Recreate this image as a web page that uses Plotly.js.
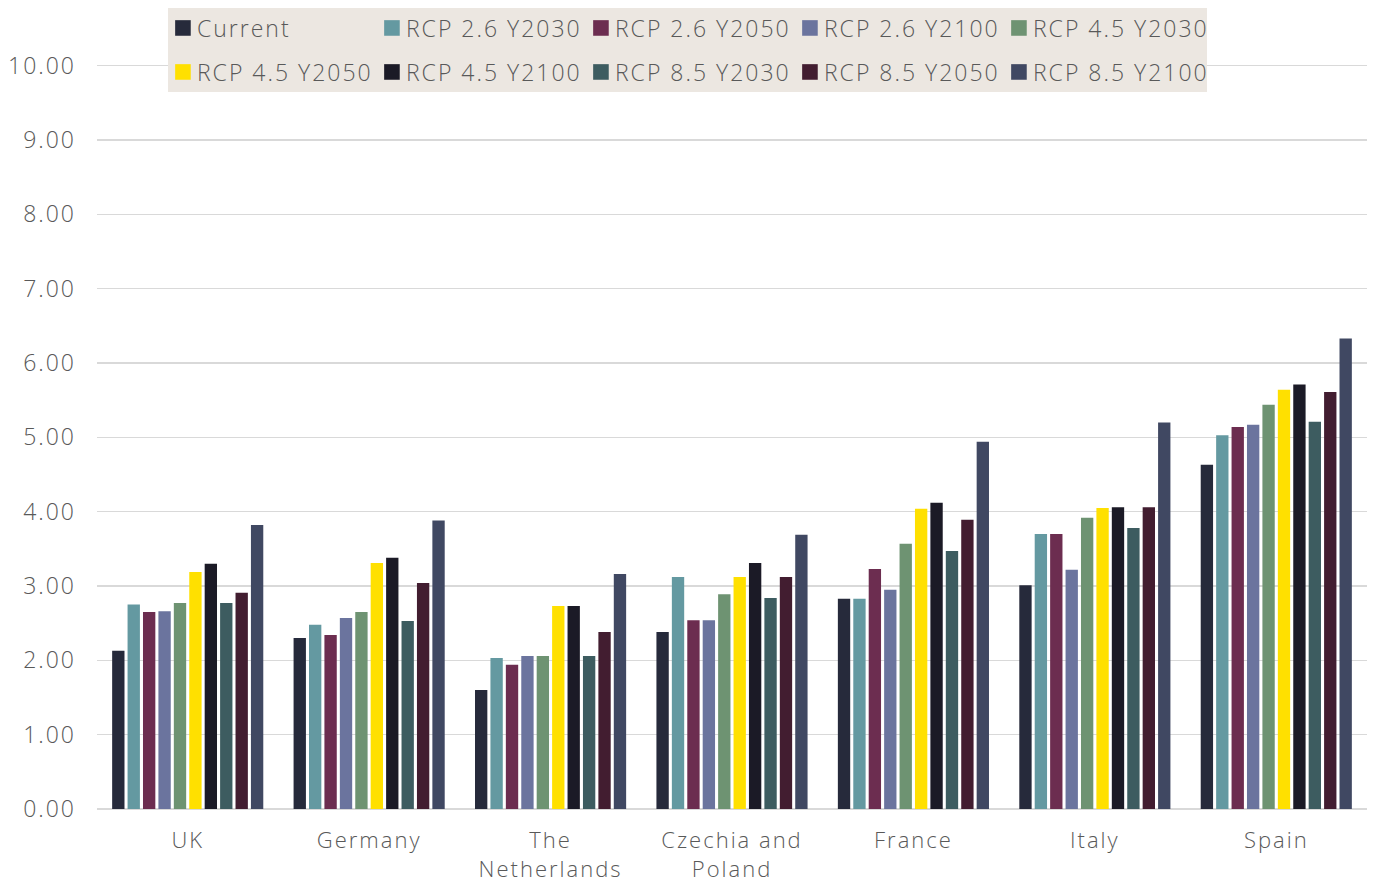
<!DOCTYPE html>
<html>
<head>
<meta charset="utf-8">
<script src="https://cdn.plot.ly/plotly-3.0.1.min.js"></script>
<style>html,body{margin:0;padding:0;background:#fff}#chart{width:1379px;height:883px}
svg text{letter-spacing:2px}
g.legendsymbols{transform:scale(1.3)}</style>
</head>
<body>
<div id="chart"></div>
<script>
const categories = ["UK", "Germany", "The<br>Netherlands", "Czechia and<br>Poland", "France", "Italy", "Spain"];
const seriesNames = ["Current", "RCP 2.6 Y2030", "RCP 2.6 Y2050", "RCP 2.6 Y2100", "RCP 4.5 Y2030",
  "RCP 4.5 Y2050", "RCP 4.5 Y2100", "RCP 8.5 Y2030", "RCP 8.5 Y2050", "RCP 8.5 Y2100"];
const current      = [2.13, 2.30, 1.60, 2.38, 2.83, 3.01, 4.63];
const rcp26_2030   = [2.75, 2.48, 2.03, 3.12, 2.83, 3.70, 5.03];
const rcp26_2050   = [2.65, 2.34, 1.94, 2.54, 3.23, 3.70, 5.14];
const rcp26_2100   = [2.66, 2.57, 2.06, 2.54, 2.95, 3.22, 5.17];
const rcp45_2030   = [2.77, 2.65, 2.06, 2.89, 3.57, 3.92, 5.44];
const rcp45_2050   = [3.19, 3.31, 2.73, 3.12, 4.04, 4.05, 5.64];
const rcp45_2100   = [3.30, 3.38, 2.73, 3.31, 4.12, 4.06, 5.71];
const rcp85_2030   = [2.77, 2.53, 2.06, 2.84, 3.47, 3.78, 5.21];
const rcp85_2050   = [2.91, 3.04, 2.38, 3.12, 3.89, 4.06, 5.61];
const rcp85_2100   = [3.82, 3.88, 3.16, 3.69, 4.94, 5.20, 6.33];
const tickValues = [0, 1, 2, 3, 4, 5, 6, 7, 8, 9, 10];
const tickLabels = ["0.00", "1.00", "2.00", "3.00", "4.00", "5.00", "6.00", "7.00", "8.00", "9.00", "10.00"];

const seriesValues = [current, rcp26_2030, rcp26_2050, rcp26_2100, rcp45_2030,
  rcp45_2050, rcp45_2100, rcp85_2030, rcp85_2050, rcp85_2100];
const colors = ["#262A3B", "#6499A1", "#6C2D50", "#6B749E", "#6E9372",
  "#FFE000", "#1B1A26", "#3D5C60", "#421D30", "#404862"];

const traces = seriesNames.map((name, i) => ({
  type: "bar",
  name: name,
  x: categories,
  y: seriesValues[i],
  legend: i < 5 ? "legend" : "legend2",
  marker: {color: colors[i], line: {width: 0}},
  hoverinfo: "x+y+name"
}));

const font = {family: "'Open Sans', Lato, sans-serif", size: 23, color: "#595959", weight: 300};
const catFont = Object.assign({}, font, {size: 22});

const legendBase = {
  orientation: "h",
  x: 0.0472, xanchor: "left",
  yanchor: "middle",
  bgcolor: "rgba(0,0,0,0)",
  font: font,
  entrywidth: 164,
  entrywidthmode: "pixels",
  itemwidth: 30,
  traceorder: "normal"
};

const layout = {
  width: 1379, height: 883,
  margin: {l: 97, r: 12, t: 62, b: 74, autoexpand: false},
  paper_bgcolor: "#ffffff", plot_bgcolor: "#ffffff",
  font: font,
  barmode: "group",
  bargap: 0.15,
  bargroupgap: 0.2,
  showlegend: true,
  legend: Object.assign({}, legendBase, {y: 1.0455}),
  legend2: Object.assign({}, legendBase, {y: 0.9866}),
  shapes: [{
    type: "rect", xref: "paper", yref: "paper",
    x0: 0.0559, x1: 0.874, y0: 0.9598, y1: 1.0723,
    fillcolor: "#ECE7E1", line: {width: 0}, layer: "above"
  }],
  xaxis: {
    type: "category",
    showgrid: false,
    showline: false,
    ticks: "",
    ticklabelstandoff: 16,
    tickfont: catFont
  },
  yaxis: {
    range: [0, 10.05],
    tickvals: tickValues,
    ticktext: tickLabels,
    showgrid: true,
    gridcolor: "#D9D9D9",
    gridwidth: 1.5,
    zeroline: true,
    zerolinecolor: "#D9D9D9",
    zerolinewidth: 1.5,
    showline: false,
    ticks: "",
    ticklabelstandoff: 20,
    tickfont: font
  }
};

Plotly.newPlot("chart", traces, layout, {displayModeBar: false, staticPlot: true}).then(function () {
  document.querySelectorAll("g.infolayer [clip-path]").forEach(function (el) {
    el.removeAttribute("clip-path");
  });
});
</script>
</body>
</html>
